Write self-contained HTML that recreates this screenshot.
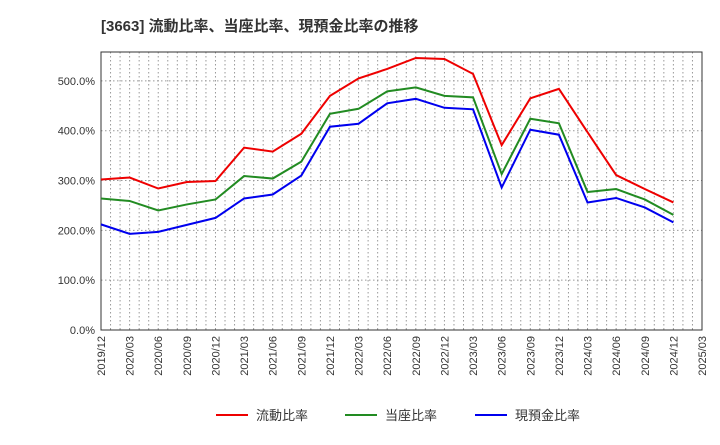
<!DOCTYPE html>
<html><head><meta charset="utf-8"><style>
body{margin:0;background:#fff;font-family:"Liberation Sans","Noto Sans CJK JP",sans-serif;}
svg text{font-family:"Liberation Sans","Noto Sans CJK JP",sans-serif;}
</style></head><body>
<svg id="c" width="720" height="440" xmlns="http://www.w3.org/2000/svg">
<text x="101" y="31" font-size="15" font-weight="bold" fill="#333">[3663]  流動比率、当座比率、現預金比率の推移</text>
<g id="grid"></g><g id="axes"></g><g id="series"></g><g id="legend"></g>
</svg>
<script>
const categories=["2019/12","2020/03","2020/06","2020/09","2020/12","2021/03","2021/06","2021/09","2021/12","2022/03","2022/06","2022/09","2022/12","2023/03","2023/06","2023/09","2023/12","2024/03","2024/06","2024/09","2024/12"];
const tickLabels=["2019/12","2020/03","2020/06","2020/09","2020/12","2021/03","2021/06","2021/09","2021/12","2022/03","2022/06","2022/09","2022/12","2023/03","2023/06","2023/09","2023/12","2024/03","2024/06","2024/09","2024/12","2025/03"];
const currentRatio=[302,306,284,297,299,366,358,394,470,505,524,546,544,514,371,465,484,397,311,283,256];
const quickRatio=[264,259,240,252,262,309,304,338,434,444,479,487,470,467,313,424,415,277,283,262,231];
const cashRatio=[212,193,197,211,225,264,272,310,408,414,455,464,446,443,286,402,392,256,265,246,216];
const yTicks=[0,100,200,300,400,500];
const seriesNames=["流動比率","当座比率","現預金比率"];
const L=101,R=702,T=52,B=330,yMax=558;
const NS="http://www.w3.org/2000/svg";
const xs=i=>L+(R-L)*i/(tickLabels.length-1);
const ys=v=>B-(B-T)*v/yMax;
function mk(tag,attrs,parent){const e=document.createElementNS(NS,tag);for(const k in attrs)e.setAttribute(k,attrs[k]);parent.appendChild(e);return e;}
const grid=document.getElementById('grid'),axes=document.getElementById('axes'),ser=document.getElementById('series'),leg=document.getElementById('legend');
// monthly vertical grid
for(let m=1;m<(tickLabels.length-1)*3;m++){const x=L+(R-L)*m/((tickLabels.length-1)*3);
const g=mk('line',{x1:x,x2:x,y1:T,y2:B,stroke:'#999','stroke-dasharray':'1.5,2.5','stroke-width':1},grid);

}
yTicks.forEach(v=>{const y=ys(v);
const g=mk('line',{x1:L,x2:R,y1:y,y2:y,stroke:'#999','stroke-dasharray':'1.5,2.5','stroke-width':1},grid);


const t=mk('text',{x:L-6,y:y+4,'text-anchor':'end','font-size':11,fill:'#333'},axes);t.textContent=v.toFixed(1)+'%';

});
const fr=mk('rect',{x:L,y:T,width:R-L,height:B-T,fill:'none',stroke:'#333','stroke-width':1},axes);


tickLabels.forEach((lab,i)=>{const x=xs(i);
const t=mk('text',{x:0,y:0,'text-anchor':'end','font-size':11,fill:'#333',transform:`translate(${x+4},${B+6}) rotate(-90)`},axes);t.textContent=lab;

});
const colors=['#ee0000','#228b22','#0000ee'];
[currentRatio,quickRatio,cashRatio].forEach((d,si)=>{
const p=mk('polyline',{points:d.map((v,i)=>xs(i)+','+ys(v)).join(' '),fill:'none',stroke:colors[si],'stroke-width':2},ser);

});
const lx=[216,345,475];
seriesNames.forEach((n,i)=>{
const l=mk('line',{x1:lx[i],x2:lx[i]+32,y1:415,y2:415,stroke:colors[i],'stroke-width':2},leg);


const t=mk('text',{x:lx[i]+40,y:420,'font-size':13,fill:'#333'},leg);t.textContent=n;

});
</script>
</body></html>
